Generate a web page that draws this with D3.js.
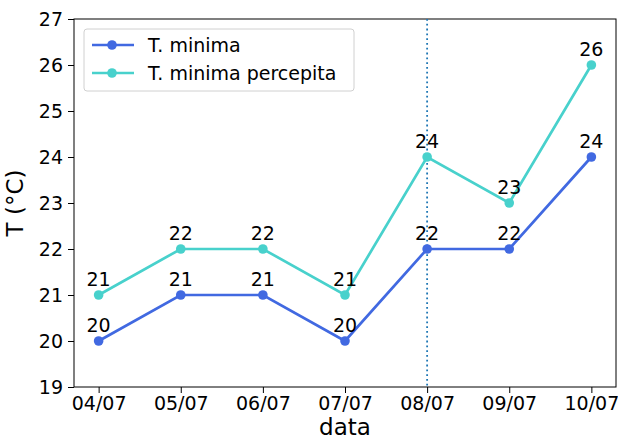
<!DOCTYPE html>
<html>
<head>
<meta charset="UTF-8" />
<script src="https://cdn.jsdelivr.net/npm/d3@7"></script>
<style>
  body { margin: 0; background: white; }
  text { font-family: "DejaVu Sans", sans-serif; }
</style>
</head>
<body>
<div id="chart"></div>
<script>
const dates = ["04/07", "05/07", "06/07", "07/07", "08/07", "09/07", "10/07"];
const tMin = [20, 21, 21, 20, 22, 22, 24];
const tPerc = [21, 22, 22, 21, 24, 23, 26];
const yTicks = [19, 20, 21, 22, 23, 24, 25, 26, 27];
const markerDate = "08/07";

const w = 618, h = 440;
const mLeft = 74, mRight = 616, mTop = 19, mBottom = 387;

const svg = d3.select("#chart").append("svg")
    .attr("width", w).attr("height", h);

const x = d3.scaleLinear().domain([-0.3, dates.length - 1 + 0.3]).range([mLeft, mRight]);
const y = d3.scaleLinear().domain([19, 27]).range([mBottom, mTop]);

// axes
const xAxis = d3.axisBottom(x).tickValues(d3.range(dates.length))
    .tickFormat(i => dates[i]).tickSizeOuter(0).tickSize(6).tickPadding(4);
const yAxis = d3.axisLeft(y).tickValues(yTicks).tickSizeOuter(0).tickSize(6).tickPadding(5);

const gx = svg.append("g").attr("transform", "translate(0," + mBottom + ")").call(xAxis);
const gy = svg.append("g").attr("transform", "translate(" + mLeft + ",0)").call(yAxis);
[gx, gy].forEach(g => {
  g.selectAll("text").attr("font-size", 19).attr("fill", "#000").style("font-family", "DejaVu Sans");
  g.selectAll("line").attr("stroke", "#000").attr("stroke-width", 1);
  g.select(".domain").remove();
});

// frame
svg.append("rect").attr("x", mLeft).attr("y", mTop)
    .attr("width", mRight - mLeft).attr("height", mBottom - mTop)
    .attr("fill", "none").attr("stroke", "#000").attr("stroke-width", 1);

// vertical dotted line
const xi = dates.indexOf(markerDate);
svg.append("line")
    .attr("x1", x(xi)).attr("x2", x(xi)).attr("y1", mTop).attr("y2", mBottom)
    .attr("stroke", "#1f77b4").attr("stroke-width", 1.8).attr("stroke-dasharray", "1.8,3");

const series = [
  {name: "T. minima", values: tMin, color: "#4169e1"},
  {name: "T. minima percepita", values: tPerc, color: "#48d1cc"}
];

const line = d3.line().x((d, i) => x(i)).y(d => y(d));

series.forEach(s => {
  svg.append("path").datum(s.values)
      .attr("d", line).attr("fill", "none")
      .attr("stroke", s.color).attr("stroke-width", 2.7);
  svg.selectAll(null).data(s.values).enter().append("circle")
      .attr("cx", (d, i) => x(i)).attr("cy", d => y(d)).attr("r", 4.8)
      .attr("fill", s.color);
  svg.selectAll(null).data(s.values).enter().append("text")
      .attr("x", (d, i) => x(i)).attr("y", d => y(d) - 9)
      .attr("text-anchor", "middle").attr("font-size", 19).attr("fill", "#000")
      .text(d => d);
});

// legend
const lg = svg.append("g");
lg.append("rect").attr("x", 84).attr("y", 29).attr("width", 270).attr("height", 62)
    .attr("rx", 3).attr("fill", "white").attr("fill-opacity", 0.8)
    .attr("stroke", "#d0d0d0");
series.forEach((s, i) => {
  const ly = 45 + i * 28;
  lg.append("line").attr("x1", 92).attr("x2", 134).attr("y1", ly).attr("y2", ly)
      .attr("stroke", s.color).attr("stroke-width", 2.7);
  lg.append("circle").attr("cx", 112).attr("cy", ly).attr("r", 4.8).attr("fill", s.color);
  lg.append("text").attr("x", 148).attr("y", ly + 7).attr("font-size", 19).attr("fill", "#000")
      .text(s.name);
});

// axis labels
svg.append("text").attr("x", (mLeft + mRight) / 2).attr("y", 435)
    .attr("text-anchor", "middle").attr("font-size", 23).attr("fill", "#000").text("data");
svg.append("text").attr("transform", "translate(23," + ((mTop + mBottom) / 2) + ") rotate(-90)")
    .attr("text-anchor", "middle").attr("font-size", 23).attr("fill", "#000").text("T (°C)");
</script>
</body>
</html>
